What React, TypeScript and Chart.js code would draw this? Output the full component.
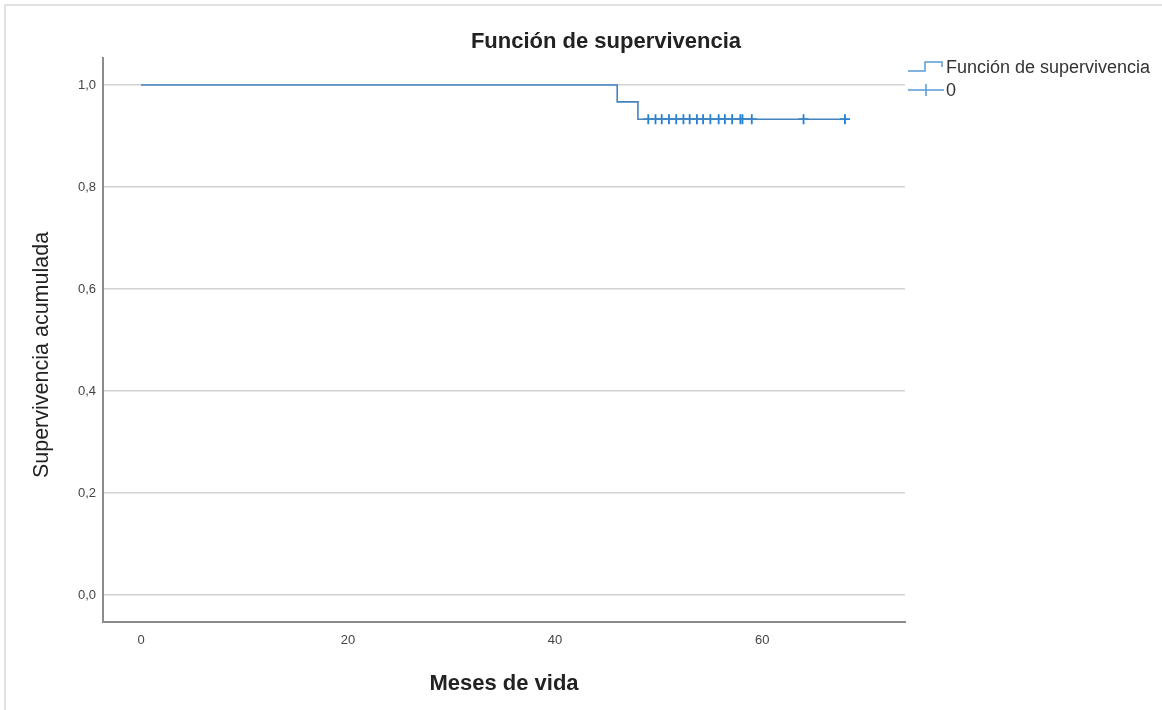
import { useEffect, useRef } from 'react';
import { Chart, registerables } from 'chart.js';

Chart.register(...registerables);

// Kaplan–Meier step values: time (months) and cumulative survival after each step
const stepMonths = [0, 46, 48, 68];
const stepSurvival = [1.0, 0.967, 0.933, 0.933];

// Censored observations (months)
const censoredMonths = [49, 49.7, 50.3, 51, 51.7, 52.4, 53, 53.7, 54.3, 55, 55.8, 56.4, 57.1, 57.9, 58.1, 59, 64, 68];

const yTicks = [0, 0.2, 0.4, 0.6, 0.8, 1.0];
const yTickLabels = ['0,0', '0,2', '0,4', '0,6', '0,8', '1,0'];
const xTicks = [0, 20, 40, 60];
const xTickLabels = ['0', '20', '40', '60'];

const chartTitle = 'Función de supervivencia';
const xTitle = 'Meses de vida';
const yTitle = 'Supervivencia acumulada';
const legendLabels = ['Función de supervivencia', '0'];

const LINE_COLOR = '#4383be';
const MARK_COLOR = '#1f7fdc';
const LEGEND_COLOR = '#5a9bd6';
const FONT = '"Liberation Sans", Arial, sans-serif';

// survival value in effect at time t (right-continuous step function)
function survivalAt(t: number): number {
  let s = stepSurvival[0];
  for (let i = 0; i < stepMonths.length; i++) {
    if (stepMonths[i] <= t) s = stepSurvival[i];
  }
  return s;
}

const decorPlugin = {
  id: 'decor',
  beforeDraw(chart: any) {
    const ctx = chart.ctx;
    ctx.save();
    ctx.fillStyle = '#ffffff';
    ctx.fillRect(0, 0, chart.width, chart.height);
    // outer frame
    ctx.strokeStyle = '#e2e2e2';
    ctx.lineWidth = 2;
    ctx.beginPath();
    ctx.moveTo(5, chart.height);
    ctx.lineTo(5, 5);
    ctx.lineTo(chart.width, 5);
    ctx.stroke();
    ctx.restore();
  },
  afterDraw(chart: any) {
    const ctx = chart.ctx;
    ctx.save();
    // title
    ctx.fillStyle = '#222222';
    ctx.font = `bold 22px ${FONT}`;
    ctx.textAlign = 'center';
    ctx.textBaseline = 'middle';
    ctx.fillText(chartTitle, 606, 42);

    // y-axis title, rotated
    ctx.save();
    ctx.translate(42, 355);
    ctx.rotate(-Math.PI / 2);
    ctx.font = `21.5px ${FONT}`;
    ctx.fillStyle = '#222222';
    ctx.fillText(yTitle, 0, 0);
    ctx.restore();

    // legend: step icon
    ctx.strokeStyle = LEGEND_COLOR;
    ctx.lineWidth = 1.5;
    ctx.beginPath();
    ctx.moveTo(908, 71);
    ctx.lineTo(925, 71);
    ctx.lineTo(925, 62);
    ctx.lineTo(942, 62);
    ctx.lineTo(942, 67);
    ctx.stroke();
    // legend: censor icon
    ctx.beginPath();
    ctx.moveTo(908, 90);
    ctx.lineTo(944, 90);
    ctx.moveTo(926, 84);
    ctx.lineTo(926, 96);
    ctx.stroke();

    ctx.fillStyle = '#333333';
    ctx.font = `18px ${FONT}`;
    ctx.textAlign = 'left';
    ctx.textBaseline = 'middle';
    ctx.fillText(legendLabels[0], 946, 68);
    ctx.fillText(legendLabels[1], 946, 91);
    ctx.restore();
  },
};

export default function App() {
  const canvasRef = useRef<HTMLCanvasElement | null>(null);

  useEffect(() => {
    if (!canvasRef.current) return;
    const curve = stepMonths.map((m, i) => ({ x: m, y: stepSurvival[i] }));
    const censored = censoredMonths.map((m) => ({ x: m, y: survivalAt(m) }));

    const chart = new Chart(canvasRef.current, {
      type: 'scatter',
      data: {
        datasets: [
          {
            label: legendLabels[0],
            data: curve,
            showLine: true,
            stepped: true,
            borderColor: LINE_COLOR,
            borderWidth: 1.6,
            pointRadius: 0,
            fill: false,
          },
          {
            label: legendLabels[1],
            data: censored,
            showLine: false,
            pointStyle: 'cross',
            pointRadius: 5,
            pointBorderWidth: 1.8,
            borderColor: MARK_COLOR,
            backgroundColor: MARK_COLOR,
          },
        ],
      },
      options: {
        animation: false,
        responsive: true,
        maintainAspectRatio: false,
        layout: { padding: { top: 58, right: 257, left: 0, bottom: 0 } },
        plugins: {
          legend: { display: false },
          title: { display: false },
          tooltip: { enabled: false },
        },
        scales: {
          x: {
            type: 'linear',
            min: -3.67,
            max: 73.8,
            afterBuildTicks: (s: any) => {
              s.ticks = xTicks.map((v) => ({ value: v }));
            },
            afterFit: (s: any) => {
              s.height = 88;
            },
            grid: { display: false, drawTicks: false },
            border: { display: true, color: '#8c8c8c', width: 2 },
            ticks: {
              padding: 11,
              color: '#444444',
              font: { family: FONT, size: 13 },
              callback: (v: any) => xTickLabels[xTicks.indexOf(Number(v))] ?? '',
            },
            title: {
              display: true,
              text: xTitle,
              color: '#222222',
              font: { family: FONT, size: 22, weight: 'bold' },
              padding: { top: 0, bottom: 13 },
            },
          },
          y: {
            type: 'linear',
            min: -0.053,
            max: 1.053,
            afterBuildTicks: (s: any) => {
              s.ticks = yTicks.map((v) => ({ value: v }));
            },
            afterFit: (s: any) => {
              s.width = 103;
            },
            grid: { color: '#d2d2d2', lineWidth: 1.5, drawTicks: false },
            border: { display: true, color: '#8c8c8c', width: 2 },
            ticks: {
              padding: 7,
              color: '#444444',
              font: { family: FONT, size: 13 },
              callback: (v: any) => {
                const i = yTicks.findIndex((t) => Math.abs(t - Number(v)) < 1e-9);
                return i >= 0 ? yTickLabels[i] : '';
              },
            },
            title: { display: false },
          },
        },
      },
      plugins: [decorPlugin],
    });

    return () => chart.destroy();
  }, []);

  return (
    <div style={{ position: 'fixed', left: 0, top: 0, width: 1162, height: 710, background: '#fff' }}>
      <canvas ref={canvasRef} />
    </div>
  );
}
